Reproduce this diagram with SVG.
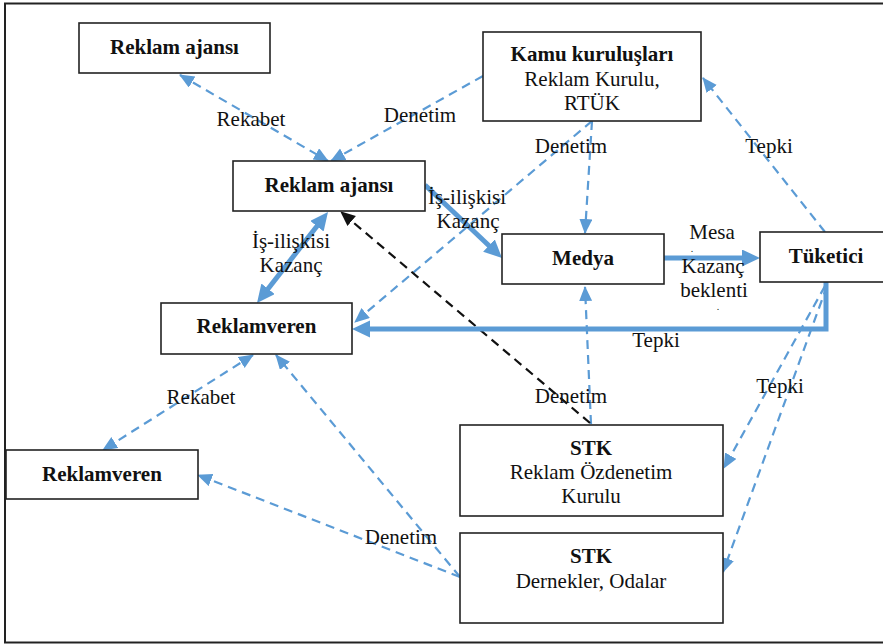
<svg xmlns="http://www.w3.org/2000/svg" width="883" height="644" viewBox="0 0 883 644" font-family="Liberation Serif, Times New Roman, serif" font-size="21">
<style>
.box{fill:#fff;stroke:#222;stroke-width:1.6}
.t{fill:#111;text-anchor:middle}
.d{fill:none;stroke:#5B9BD5;stroke-width:2.2;stroke-dasharray:9 6;marker-end:url(#ah)}
.dd{marker-start:url(#ah)}
.k{fill:none;stroke:#111;stroke-width:2.2;stroke-dasharray:9 6;marker-end:url(#ahk)}
.th{fill:none;stroke:#5B9BD5;stroke-width:5;marker-end:url(#aht)}
</style>
<defs>
<marker id="ah" markerUnits="userSpaceOnUse" markerWidth="16" markerHeight="14" refX="14" refY="6.5" orient="auto-start-reverse"><path d="M0,0 L15,6.5 L0,13 z" fill="#5B9BD5"/></marker>
<marker id="ahk" markerUnits="userSpaceOnUse" markerWidth="16" markerHeight="14" refX="14" refY="6.5" orient="auto"><path d="M0,0 L15,6.5 L0,13 z" fill="#111"/></marker>
<marker id="aht" markerUnits="userSpaceOnUse" markerWidth="20" markerHeight="18" refX="6" refY="8.5" orient="auto-start-reverse"><path d="M0,0 L18,8.5 L0,17 z" fill="#5B9BD5"/></marker>
</defs>
<rect x="5" y="3.5" width="890" height="639" fill="#fff" stroke="#222" stroke-width="2"/>
<g id="connectors">
<path class="d dd" d="M180,75 L328,161"/>
<path class="d" d="M483,76 L331,161"/>
<path class="d" d="M592,121 L585,233"/>
<path class="d" d="M592,121 L355,322"/>
<path class="d" d="M825,232 L703,78"/>
<path class="d" d="M825,286 L724,468"/>
<path class="d" d="M827,286 L723,572"/>
<path class="d" d="M591,424 L585,287"/>
<path class="k" d="M590,423 L341,212"/>
<path class="d dd" d="M253,355 L103,450"/>
<path class="d" d="M460,577 L276,355"/>
<path class="d" d="M460,577 L198,475"/>
<path class="th" d="M425,185 L493.3,249.7"/>
<path class="th" style="marker-start:url(#aht)" d="M320.6,221.5 L264.4,293.5"/>
<path class="th" d="M664,258 L748,258"/>
<path class="th" d="M826,282 V329 H364"/>
<text class="t" x="251" y="126">Rekabet</text>
<text class="t" x="420" y="122">Denetim</text>
<text class="t" x="571" y="153">Denetim</text>
<text class="t" x="769" y="153">Tepki</text>
<text class="t" x="467" y="204">İş-ilişkisi</text>
<text class="t" x="468" y="228">Kazanç</text>
<text class="t" x="291" y="248">İş-ilişkisi</text>
<text class="t" x="291" y="272">Kazanç</text>
<text class="t" x="712" y="239">Mesa</text>
<text class="t" x="692" y="252" font-size="10">.</text>
<text class="t" x="713" y="273">Kazanç</text>
<text class="t" x="714" y="297">beklenti</text>
<text class="t" x="718" y="310" font-size="10">.</text>
<text class="t" x="656" y="347">Tepki</text>
<text class="t" x="780" y="393">Tepki</text>
<text class="t" x="571" y="403">Denetim</text>
<text class="t" x="201" y="404">Rekabet</text>
<text class="t" x="401" y="544">Denetim</text>
</g>
<g id="n1"><rect class="box" x="79" y="23" width="191" height="50"/><text class="t" font-weight="bold" x="174.5" y="54">Reklam ajansı</text></g>
<g id="n2"><rect class="box" x="233" y="161" width="192" height="50"/><text class="t" font-weight="bold" x="329" y="192">Reklam ajansı</text></g>
<g id="n3"><rect class="box" x="483" y="32" width="218" height="89"/><text class="t" font-weight="bold" x="592" y="61">Kamu kuruluşları</text><text class="t" x="592" y="86">Reklam Kurulu,</text><text class="t" x="592" y="110">RTÜK</text></g>
<g id="n4"><rect class="box" x="502" y="234" width="162" height="50"/><text class="t" font-weight="bold" x="583" y="265">Medya</text></g>
<g id="n5"><rect class="box" x="760" y="232" width="131" height="50"/><text class="t" font-weight="bold" x="826" y="263">Tüketici</text></g>
<g id="n6"><rect class="box" x="161" y="303" width="191" height="51"/><text class="t" font-weight="bold" x="256.5" y="333">Reklamveren</text></g>
<g id="n7"><rect class="box" x="6" y="450" width="192" height="49"/><text class="t" font-weight="bold" x="102" y="481">Reklamveren</text></g>
<g id="n8"><rect class="box" x="460" y="425" width="263" height="91"/><text class="t" font-weight="bold" x="591" y="455">STK</text><text class="t" x="591" y="479">Reklam Özdenetim</text><text class="t" x="591" y="503">Kurulu</text></g>
<g id="n9"><rect class="box" x="460" y="533" width="263" height="90"/><text class="t" font-weight="bold" x="591" y="563">STK</text><text class="t" x="591" y="588">Dernekler, Odalar</text></g>
</svg>
